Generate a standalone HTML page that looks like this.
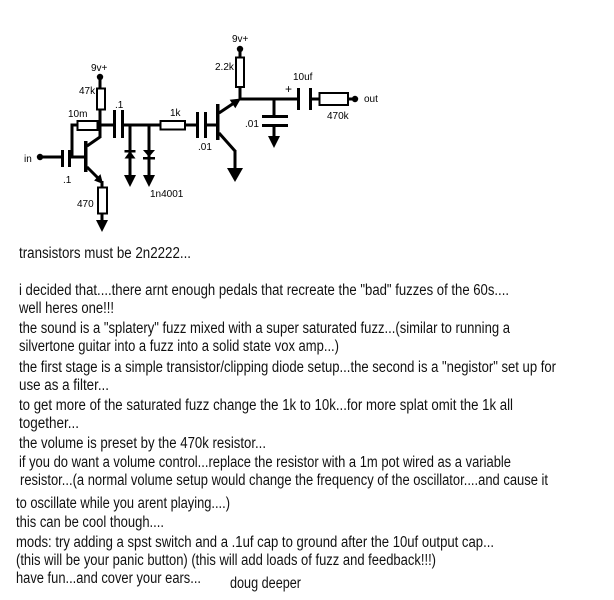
<!DOCTYPE html>
<html><head><meta charset="utf-8"><style>
html,body{margin:0;padding:0;background:#fff;}
svg{display:block;}
.s{stroke:#000;stroke-width:3;fill:none;}
.r{stroke:#000;stroke-width:2;fill:#fff;}
.f{fill:#000;stroke:none;}
.l{font-family:"Liberation Sans",sans-serif;font-size:10px;fill:#000;}
.t{font-family:"Liberation Sans",sans-serif;font-size:15.5px;fill:#111;}
</style></head><body>
<svg width="614" height="600" viewBox="0 0 614 600" xmlns="http://www.w3.org/2000/svg">
<rect width="614" height="600" fill="#fff"/>
<!-- Stage 1 -->
<circle cx="40" cy="157" r="3.2" class="f"/>
<line x1="40" y1="157" x2="62" y2="157" class="s"/>
<rect x="61" y="150" width="3" height="17" class="f"/>
<rect x="68" y="150" width="3" height="17" class="f"/>
<line x1="70" y1="157" x2="86" y2="157" class="s"/>
<polyline points="72,157 72,125 78,125" class="s"/>
<rect x="77.5" y="121" width="20" height="9" class="r"/>
<line x1="97" y1="125" x2="113" y2="125" class="s"/>
<rect x="84" y="141" width="3.5" height="31" class="f"/>
<line x1="87" y1="146" x2="100" y2="137" class="s"/>
<circle cx="100" cy="77" r="3.2" class="f"/>
<line x1="100" y1="77" x2="100" y2="89" class="s"/>
<rect x="97" y="88.5" width="8" height="21" class="r"/>
<line x1="100" y1="110" x2="100" y2="138" class="s"/>
<line x1="87" y1="167" x2="101" y2="181" class="s"/>
<polygon points="103,184 94.1,180.5 100.5,174.1" class="f"/>
<line x1="102" y1="181" x2="102" y2="188" class="s"/>
<rect x="98" y="187.5" width="9" height="26" class="r"/>
<line x1="102" y1="214" x2="102" y2="221" class="s"/>
<polygon points="96,220 108,220 102,232" class="f"/>
<!-- coupling cap .1 -->
<rect x="113" y="110" width="3" height="28" class="f"/>
<rect x="121" y="110" width="3" height="28" class="f"/>
<line x1="123" y1="125" x2="161" y2="125" class="s"/>
<!-- diodes -->
<line x1="130" y1="125" x2="130" y2="176" class="s"/>
<rect x="124.5" y="150" width="11" height="2.5" class="f"/>
<polygon points="130,151 124.5,158.5 135.5,158.5" class="f"/>
<polygon points="124,175 136,175 130,187" class="f"/>
<line x1="149" y1="125" x2="149" y2="176" class="s"/>
<polygon points="143,150 155,150 149,157" class="f"/>
<rect x="143" y="157" width="12" height="2.5" class="f"/>
<polygon points="143,175 155,175 149,187" class="f"/>
<!-- 1k -->
<rect x="160.5" y="121" width="24.5" height="8.5" class="r"/>
<line x1="185" y1="125" x2="197" y2="125" class="s"/>
<!-- cap .01 -->
<rect x="196" y="112" width="3" height="26" class="f"/>
<rect x="204" y="112" width="3" height="26" class="f"/>
<line x1="206" y1="125" x2="217" y2="125" class="s"/>
<!-- Stage 2 -->
<rect x="216" y="104" width="3.5" height="36" class="f"/>
<line x1="219" y1="113" x2="234" y2="103" class="s"/>
<polygon points="241,98.5 235.3,108.2 229.7,99.8" class="f"/>
<line x1="219" y1="133" x2="235" y2="151" class="s"/>
<line x1="235" y1="150" x2="235" y2="169" class="s"/>
<polygon points="227,168 243,168 235,182" class="f"/>
<circle cx="240" cy="49" r="3.2" class="f"/>
<line x1="240" y1="49" x2="240" y2="58" class="s"/>
<rect x="236" y="57.5" width="8" height="29.5" class="r"/>
<line x1="240" y1="87" x2="240" y2="100" class="s"/>
<line x1="238.5" y1="99" x2="298" y2="99" class="s"/>
<line x1="274" y1="99" x2="274" y2="116" class="s"/>
<rect x="262" y="115" width="26" height="3" class="f"/>
<rect x="262" y="124" width="26" height="3" class="f"/>
<line x1="274" y1="126" x2="274" y2="137" class="s"/>
<polygon points="268,136 280,136 274,148" class="f"/>
<rect x="297" y="88" width="3" height="22" class="f"/>
<rect x="309" y="88" width="3" height="22" class="f"/>
<line x1="311" y1="99" x2="320" y2="99" class="s"/>
<rect x="319.5" y="93" width="28.5" height="12" class="r"/>
<line x1="348" y1="99" x2="355" y2="99" class="s"/>
<circle cx="355" cy="99" r="3.2" class="f"/>
<!-- labels -->
<text x="91" y="71" class="l">9v+</text>
<text x="79" y="94" class="l">47k</text>
<text x="68" y="117" class="l">10m</text>
<text x="115" y="108" class="l">.1</text>
<text x="24" y="162" class="l">in</text>
<text x="63" y="183" class="l">.1</text>
<text x="77" y="207" class="l">470</text>
<text x="150" y="197" class="l">1n4001</text>
<text x="170" y="116" class="l">1k</text>
<text x="232" y="42" class="l">9v+</text>
<text x="215" y="70" class="l">2.2k</text>
<text x="293" y="80" class="l">10uf</text>
<text x="285" y="93" class="l" style="font-size:12px">+</text>
<text x="245" y="127" class="l">.01</text>
<text x="198" y="150" class="l">.01</text>
<text x="327" y="119" class="l">470k</text>
<text x="364" y="102" class="l">out</text>
<!-- text body -->
<text x="19" y="258" class="t" textLength="172" lengthAdjust="spacingAndGlyphs">transistors must be 2n2222...</text>
<text x="19" y="295" class="t" textLength="490" lengthAdjust="spacingAndGlyphs">i decided that....there arnt enough pedals that recreate the "bad" fuzzes of the 60s....</text>
<text x="19" y="313" class="t" textLength="95" lengthAdjust="spacingAndGlyphs">well heres one!!!</text>
<text x="19" y="333" class="t" textLength="491" lengthAdjust="spacingAndGlyphs">the sound is a "splatery" fuzz mixed with a super saturated fuzz...(similar to running a</text>
<text x="19" y="351" class="t" textLength="320" lengthAdjust="spacingAndGlyphs">silvertone guitar into a fuzz into a solid state vox amp...)</text>
<text x="19" y="372" class="t" textLength="537" lengthAdjust="spacingAndGlyphs">the first stage is a simple transistor/clipping diode setup...the second is a "negistor" set up for</text>
<text x="19" y="390" class="t" textLength="90" lengthAdjust="spacingAndGlyphs">use as a filter...</text>
<text x="19" y="410" class="t" textLength="494" lengthAdjust="spacingAndGlyphs">to get more of the saturated fuzz change the 1k to 10k...for more splat omit the 1k all</text>
<text x="19" y="428" class="t" textLength="60" lengthAdjust="spacingAndGlyphs">together...</text>
<text x="19" y="448" class="t" textLength="247" lengthAdjust="spacingAndGlyphs">the volume is preset by the 470k resistor...</text>
<text x="19" y="467" class="t" textLength="492" lengthAdjust="spacingAndGlyphs">if you do want a volume control...replace the resistor with a 1m pot wired as a variable</text>
<text x="20" y="485" class="t" textLength="528" lengthAdjust="spacingAndGlyphs">resistor...(a normal volume setup would change the frequency of the oscillator....and cause it</text>
<text x="16" y="508" class="t" textLength="214" lengthAdjust="spacingAndGlyphs">to oscillate while you arent playing....)</text>
<text x="16" y="527" class="t" textLength="148" lengthAdjust="spacingAndGlyphs">this can be cool though....</text>
<text x="16" y="547" class="t" textLength="478" lengthAdjust="spacingAndGlyphs">mods: try adding a spst switch and a .1uf cap to ground after the 10uf output cap...</text>
<text x="16" y="565" class="t" textLength="420" lengthAdjust="spacingAndGlyphs">(this will be your panic button) (this will add loads of fuzz and feedback!!!)</text>
<text x="16" y="583" class="t" textLength="185" lengthAdjust="spacingAndGlyphs">have fun...and cover your ears...</text>
<text x="230" y="588" class="t" textLength="71" lengthAdjust="spacingAndGlyphs">doug deeper</text>
</svg>
</body></html>
